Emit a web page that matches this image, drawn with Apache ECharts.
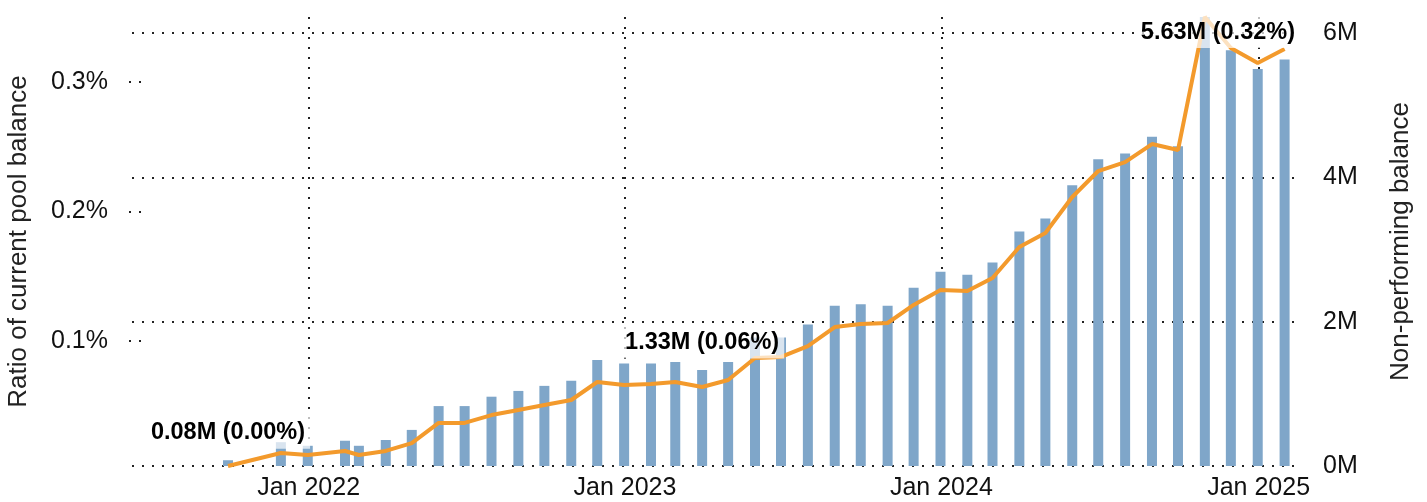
<!DOCTYPE html>
<html>
<head>
<meta charset="utf-8">
<title>Non-performing balance</title>
<script src="https://cdn.jsdelivr.net/npm/echarts@6/dist/echarts.min.js"></script>
<style>
  html, body { margin: 0; padding: 0; background: #fff; }
  #chart { width: 1427px; height: 502px; }
</style>
</head>
<body>
<div id="chart"></div>
<script>
  'use strict';

  // month-end reporting dates
  var dates = [
    '2021-09-30', '2021-11-30', '2021-12-31', '2022-02-12', '2022-02-28', '2022-03-31',
    '2022-04-30', '2022-05-31', '2022-06-30', '2022-07-31', '2022-08-31', '2022-09-30',
    '2022-10-31', '2022-11-30', '2022-12-31', '2023-01-31', '2023-02-28', '2023-03-31',
    '2023-04-30', '2023-05-31', '2023-06-30', '2023-07-31', '2023-08-31', '2023-09-30',
    '2023-10-31', '2023-11-30', '2023-12-31', '2024-01-31', '2024-02-29', '2024-03-31',
    '2024-04-30', '2024-05-31', '2024-06-30', '2024-07-31', '2024-08-31', '2024-09-30',
    '2024-10-31', '2024-11-30', '2024-12-31', '2025-01-31'
  ];

  // non-performing balance, millions
  var balance = [
    0.08, 0.33, 0.28, 0.35, 0.28, 0.36,
    0.50, 0.83, 0.83, 0.96, 1.04, 1.11,
    1.18, 1.47, 1.42, 1.42, 1.44, 1.33,
    1.44, 1.78, 1.78, 1.96, 2.22, 2.24,
    2.22, 2.47, 2.69, 2.65, 2.82, 3.25,
    3.43, 3.89, 4.25, 4.33, 4.56, 4.43,
    6.22, 5.76, 5.50, 5.63
  ];

  // ratio of current pool balance, percent
  var ratio = [
    0.0036, 0.0136, 0.0121, 0.0152, 0.0121, 0.0152,
    0.0213, 0.0368, 0.0368, 0.0429, 0.0468, 0.0506,
    0.0545, 0.0684, 0.0661, 0.0668, 0.0684, 0.0645,
    0.0699, 0.0869, 0.0877, 0.0961, 0.1108, 0.1131,
    0.1139, 0.1278, 0.1393, 0.1386, 0.1486, 0.1725,
    0.1833, 0.2111, 0.2311, 0.2380, 0.2519, 0.2473,
    0.3499, 0.3260, 0.3144, 0.3252
  ];

  var ratioTicks = [0.1, 0.2, 0.3];
  var balanceTicks = [0, 2, 4, 6];

  var annDates = ['2021-09-30', '2023-03-31', '2025-01-31'];
  var annTexts = ['0.08M (0.00%)', '1.33M (0.06%)', '5.63M (0.32%)'];

  var monthNames = ['Jan', 'Feb', 'Mar', 'Apr', 'May', 'Jun', 'Jul', 'Aug', 'Sep', 'Oct', 'Nov', 'Dec'];

  var FONT = '"Liberation Sans", Arial, sans-serif';
  var GRID_RIGHT = 127;
  var DAY = 24 * 3600 * 1000;
  var dots = { color: '#222', width: 2, type: [2, 8] };

  var chart = echarts.init(document.getElementById('chart'));

  var barData = dates.map(function (d, i) { return [d, balance[i]]; });
  var lineData = dates.map(function (d, i) { return [d, ratio[i]]; });
  var annData = annDates.map(function (d, i) {
    return { value: [d, balance[dates.indexOf(d)]], text: annTexts[i] };
  });

  chart.setOption({
    animation: false,
    textStyle: { fontFamily: FONT },
    grid: { left: 132, right: GRID_RIGHT, top: 17, bottom: 36, outerBoundsMode: 'none' },
    xAxis: {
      type: 'time',
      // bars widen the extent a little on each side
      min: '2021-06-17',
      max: '2025-02-12',
      minInterval: 365 * DAY,
      maxInterval: 366 * DAY,
      axisLine: { show: false },
      axisTick: { show: false },
      axisLabel: {
        fontSize: 25,
        color: '#111',
        margin: 10,
        formatter: function (v) {
          var d = new Date(v);
          return monthNames[d.getMonth()] + ' ' + d.getFullYear();
        }
      },
      splitLine: { show: true, showMinLine: false, showMaxLine: false, lineStyle: dots }
    },
    yAxis: [
      {
        type: 'value',
        position: 'left',
        offset: -9,
        min: Math.min.apply(null, ratio),
        max: Math.max.apply(null, ratio),
        name: 'Ratio of current pool balance',
        nameLocation: 'middle',
        nameGap: 109,
        nameTextStyle: { fontSize: 26, color: '#222' },
        axisLine: { show: false },
        axisTick: { show: true, length: 14, customValues: ratioTicks, lineStyle: dots },
        axisLabel: {
          customValues: ratioTicks,
          fontSize: 25,
          color: '#111',
          margin: 33,
          formatter: function (v) { return v + '%'; }
        },
        splitLine: { show: false }
      },
      {
        type: 'value',
        position: 'right',
        min: 0,
        max: Math.max.apply(null, balance),
        name: 'Non-performing balance',
        nameLocation: 'middle',
        nameGap: 88,
        nameTextStyle: { fontSize: 26, color: '#222' },
        axisLine: { show: false },
        axisTick: { show: false, customValues: balanceTicks },
        axisLabel: {
          customValues: balanceTicks,
          fontSize: 25,
          color: '#111',
          margin: 23,
          formatter: function (v) { return v + 'M'; }
        },
        splitLine: { show: true, lineStyle: dots }
      }
    ],
    series: [
      {
        type: 'bar',
        yAxisIndex: 1,
        data: barData,
        barWidth: 10,
        itemStyle: { color: '#7fa6c9' },
        z: 2
      },
      {
        type: 'line',
        yAxisIndex: 0,
        data: lineData,
        symbol: 'none',
        lineStyle: { color: '#f39a2c', width: 4 },
        z: 3
      },
      {
        type: 'scatter',
        yAxisIndex: 1,
        data: annData,
        symbolSize: 1,
        itemStyle: { color: 'rgba(0,0,0,0)', opacity: 1 },
        z: 10,
        label: {
          show: true,
          position: 'top',
          distance: 11,
          fontSize: 23.5,
          fontWeight: 'bold',
          color: '#000',
          backgroundColor: 'rgba(255,255,255,0.7)',
          padding: [4, 5],
          formatter: function (p) { return p.data.text; }
        },
        labelLayout: function (p) {
          // keep labels inside the plot area
          var right = chart.getWidth() - GRID_RIGHT;
          var over = p.labelRect.x + p.labelRect.width - right;
          return over > 0 ? { dx: -over } : {};
        }
      }
    ]
  });

  window.addEventListener('resize', function () { chart.resize(); });
</script>
</body>
</html>
